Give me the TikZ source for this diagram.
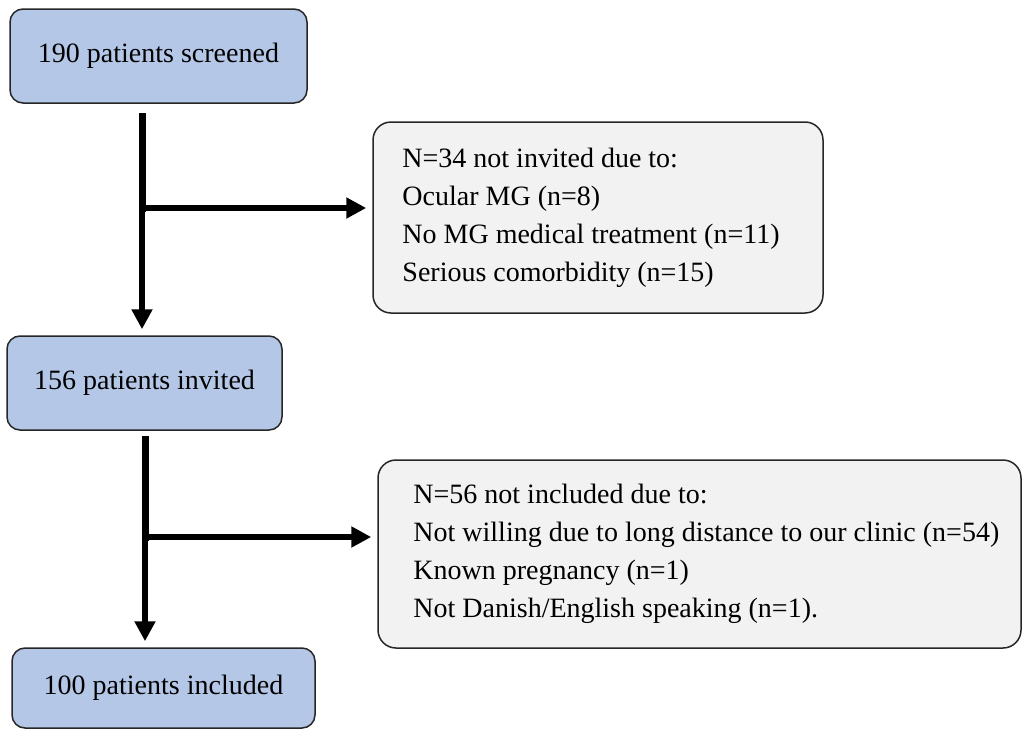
\documentclass[tikz,border=0pt]{standalone}
\usepackage{fontspec}
\setmainfont{Liberation Serif}
\usetikzlibrary{arrows.meta,positioning}
\definecolor{stageblue}{RGB}{180,199,231}
\definecolor{reasongray}{RGB}{242,242,242}

\begin{document}
\begin{tikzpicture}[x=1pt, y=1pt, font=\fontsize{28}{38}\selectfont,
    stage/.style={draw=black!85, line width=1.5pt, rounded corners=13pt, fill=stageblue},
    reason/.style={draw=black!85, line width=1.5pt, rounded corners=18pt, fill=reasongray},
    listing/.style={align=left, inner sep=0pt, anchor=west},
    arr/.style={-{Triangle[length=20pt, width=20pt]}, shorten >=6pt}]
        \useasboundingbox (0,0) rectangle (1023,-731);
        % main stages
        \node[stage, minimum width=297pt, minimum height=94pt] (screened) at (158.5,-56) {190 patients screened};
        \node[stage, minimum width=275pt, minimum height=94pt] (invited) at (144.5,-383) {156 patients invited};
        \node[stage, minimum width=303pt, minimum height=80pt] (included) at (163.5,-688) {100 patients included};
        % exclusion boxes
        \node[reason, minimum width=450pt, minimum height=191pt] (excl1) at (598,-217.5) {};
        \node[listing, right=30pt of excl1.west] (excl1txt) {N=34 not invited due to:\\
            Ocular MG (n=8)\\ No MG medical treatment (n=11)\\ Serious comorbidity (n=15)};
        \node[reason, minimum width=643pt, minimum height=188pt] (excl2) at (699.5,-554) {};
        \node[listing, right=36pt of excl2.west] (excl2txt) {N=56 not included due to:\\
            Not willing due to long distance to our clinic (n=54)\\ Known pregnancy (n=1)\\
            Not Danish/English speaking (n=1).};
        % connectors
        \coordinate (t1) at (142,-113);
        \coordinate (j1) at (142,-208);
        \coordinate (t2) at (145,-436);
        \coordinate (j2) at (145,-537);
        \foreach \top/\join/\aside/\next in {t1/j1/excl1/invited, t2/j2/excl2/included}{
            \draw[line width=7pt] (\top) -- ([yshift=-4pt]\join);
            \draw[arr, line width=6pt] (\join) -- (\join -| \aside.west);
            \draw[arr, line width=6pt] (\join) -- (\join |- \next.north);
        }
\end{tikzpicture}
\end{document}
